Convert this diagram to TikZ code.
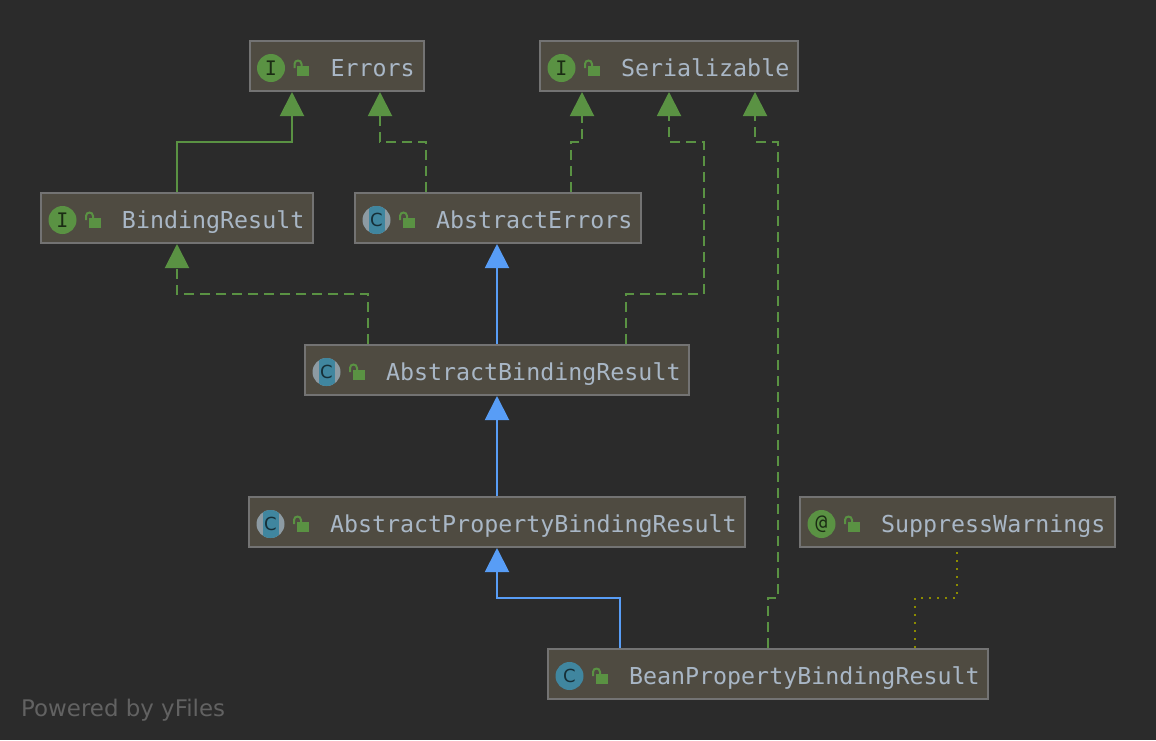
\documentclass[tikz,border=0pt]{standalone}
\usepackage{fontspec}
\setmainfont{DejaVu Sans}
\setmonofont{DejaVu Sans Mono}
\usetikzlibrary{arrows.meta}
\definecolor{bgc}{HTML}{2B2B2B}
\definecolor{boxfill}{HTML}{4F4B41}
\definecolor{boxline}{HTML}{737373}
\definecolor{txtc}{HTML}{A9B7C6}
\definecolor{greenc}{HTML}{5A9243}
\definecolor{bluec}{HTML}{589DF6}
\definecolor{tealc}{HTML}{40869F}
\definecolor{ringc}{HTML}{8D9BA3}
\definecolor{olivec}{HTML}{8C8C00}
\definecolor{footc}{HTML}{626262}
\tikzset{
  umlbox/.style={draw=boxline,fill=boxfill,line width=2pt,inner sep=0pt,outer sep=0pt,anchor=north west,text=txtc,font=\ttfamily\fontsize{23.3}{24}\selectfont},
  iconbase/.style={circle,inner sep=0pt,outer sep=0pt,minimum size=28pt,font=\ttfamily\fontsize{20}{20}\selectfont},
  greenicon/.style={iconbase,fill=greenc,text=black!70!greenc},
  tealicon/.style={iconbase,fill=tealc,text=black!65!tealc,font=\fontsize{18}{18}\selectfont},
  absicon/.style={iconbase,fill=ringc},
  absglyph/.style={iconbase,text=black!65!tealc,font=\fontsize{18}{18}\selectfont},
  lockbody/.style={fill=greenc,draw=none},
  lockbow/.style={draw=greenc,line width=2pt},
  solidg/.style={draw=greenc,line width=2pt,shorten >=1pt,shorten <=1pt,-{Triangle[length=24pt,width=24pt,fill=greenc]}},
  dashg/.style={solidg,dash pattern=on 10pt off 6pt},
  solidb/.style={draw=bluec,line width=2pt,shorten >=1pt,shorten <=1pt,-{Triangle[length=24pt,width=24pt,fill=bluec]}},
  dotted olive/.style={draw=olivec,line width=1.6pt,dash pattern=on 1.6pt off 6.4pt,shorten <=1pt,shorten >=1pt},
}
\newcommand{\lockicon}{%
  \fill[lockbody] (47.5,24.5) rectangle (59.5,35);
  \draw[lockbow] (45,27) -- (45,23) .. controls (45,18.4) and (52,18.4) .. (52,23) -- (52,25);
}
% name, x, y, w, label
\newcommand{\umlnode}[5]{%
  \node[umlbox] (#1) at (#2,#3) {\makebox[#4pt][l]{\hspace*{81pt}\rule[-15pt]{0pt}{50pt}#5}};
}
\newcommand{\greenmark}[4]{% name,x,y,glyph
  \begin{scope}[shift={(#2,#3)}]
    \node[greenicon] (#1) at (21.5,27) {#4};
    \lockicon
  \end{scope}
}
\newcommand{\tealmark}[3]{%
  \begin{scope}[shift={(#2,#3)}]
    \node[tealicon] (#1) at (21.5,27) {C};
    \lockicon
  \end{scope}
}
\newcommand{\absmark}[3]{%
  \begin{scope}[shift={(#2,#3)}]
    \node[absicon] (#1) at (21.5,27) {};
    \begin{scope}
      \clip (21.5,27) circle[radius=14pt];
      \fill[tealc] (13.5,12) rectangle (29.5,42);
    \end{scope}
    \node[absglyph] (#1g) at (21.5,27) {C};
    \lockicon
  \end{scope}
}
\begin{document}
\begin{tikzpicture}[x=1pt,y=-1pt]
\useasboundingbox[fill=bgc] (0,0) rectangle (1156,740);

\umlnode{errors}{249.5}{41}{174}{Errors}
\greenmark{errorsi}{249.5}{41}{I}
\umlnode{serial}{540}{41}{258}{Serializable}
\greenmark{seriali}{540}{41}{I}
\umlnode{bind}{41}{193}{272}{BindingResult}
\greenmark{bindi}{41}{193}{I}
\umlnode{aerr}{355}{193}{286}{AbstractErrors}
\absmark{aerri}{355}{193}
\umlnode{abr}{305}{345}{384}{AbstractBindingResult}
\absmark{abri}{305}{345}
\umlnode{apbr}{249}{497}{496}{AbstractPropertyBindingResult}
\absmark{apbri}{249}{497}
\umlnode{supp}{800}{497}{315}{SuppressWarnings}
\greenmark{suppi}{800}{497}{@}
\umlnode{bpbr}{548}{649}{440}{BeanPropertyBindingResult}
\tealmark{bpbri}{548}{649}

\draw[solidg] (bind.north) -- (177,142) -- (292,142) -- (errors.south -| 292,0);
\draw[dashg] (aerr.north -| 426,0) -- (426,142) -- (380,142) -- (errors.south -| 380,0);
\draw[dashg] (aerr.north -| 571,0) -- (571,142) -- (582,142) -- (serial.south -| 582,0);
\draw[dashg] (abr.north -| 626,0) -- (626,294) -- (704,294) -- (704,142) -- (669,142) -- (serial.south -| 669,0);
\draw[dashg] (abr.north -| 368,0) -- (368,294) -- (177,294) -- (bind.south);
\draw[solidb] (abr.north -| 497,0) -- (aerr.south -| 497,0);
\draw[solidb] (apbr.north -| 497,0) -- (abr.south -| 497,0);
\draw[solidb] (bpbr.north -| 620,0) -- (620,598) -- (497,598) -- (apbr.south -| 497,0);
\draw[dashg] (bpbr.north -| 768,0) -- (768,598) -- (778,598) -- (778,142) -- (755,142) -- (serial.south -| 755,0);
\draw[dotted olive] (bpbr.north -| 915,0) -- (915,598) -- (957,598) -- (supp.south -| 957,0);

\node[anchor=base west,inner sep=0pt,text=footc,font=\fontsize{22.9}{24}\selectfont] (footer) at (21,716) {Powered by yFiles};
\end{tikzpicture}
\end{document}
